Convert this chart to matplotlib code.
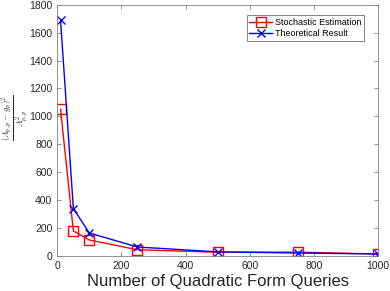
import matplotlib
matplotlib.use("Agg")
import matplotlib.pyplot as plt

# queries vs. relative error
queries = [10, 50, 100, 250, 500, 750, 1000]
stochastic = [1050, 180, 115, 45, 28, 28, 15]
theoretical = [1690, 340, 165, 65, 30, 22, 15]

xticks = [0, 200, 400, 600, 800, 1000]
yticks = [0, 200, 400, 600, 800, 1000, 1200, 1400, 1600, 1800]

plt.rcParams['font.family'] = ['Liberation Sans', 'DejaVu Sans']
plt.rcParams['mathtext.fontset'] = 'cm'

fig = plt.figure(figsize=(3.9, 2.91), dpi=100)
ax = fig.add_axes([0.147, 0.12, 0.822, 0.864])

ax.plot(queries, stochastic, color='red', marker='s', markersize=7,
        markerfacecolor='none', linewidth=1, label='Stochastic Estimation')
ax.plot(queries, theoretical, color='blue', marker='x', markersize=6,
        linewidth=1, label='Theoretical Result')

ax.set_xlim(0, 1000)
ax.set_ylim(0, 1800)
ax.set_xticks(xticks)
ax.set_yticks(yticks)

grey = '#262626'
for s in ax.spines.values():
    s.set_color('#808080')
    s.set_linewidth(0.6)
ax.tick_params(direction='in', top=True, right=True, labelsize=7.5,
               colors='#808080', labelcolor=grey, length=3, width=0.6)

ax.set_xlabel('Number of Quadratic Form Queries', fontsize=12, color=grey, labelpad=2)
# y label placed by hand so the fraction is not clipped
fig.text(0.036, 0.595, r'$\frac{(A_{p,p}-g_p)^2}{A_{p,p}^2}$', fontsize=9,
         color=grey, rotation=90, ha='center', va='center')

leg = ax.legend(loc='upper right', fontsize=6.5, frameon=True, fancybox=False,
                edgecolor='#262626', handlelength=2.5, borderpad=0.3,
                labelspacing=0.2, handletextpad=0.3, bbox_to_anchor=(0.97, 0.975))
leg.get_frame().set_linewidth(0.5)

fig.savefig('out.png', dpi=100)
